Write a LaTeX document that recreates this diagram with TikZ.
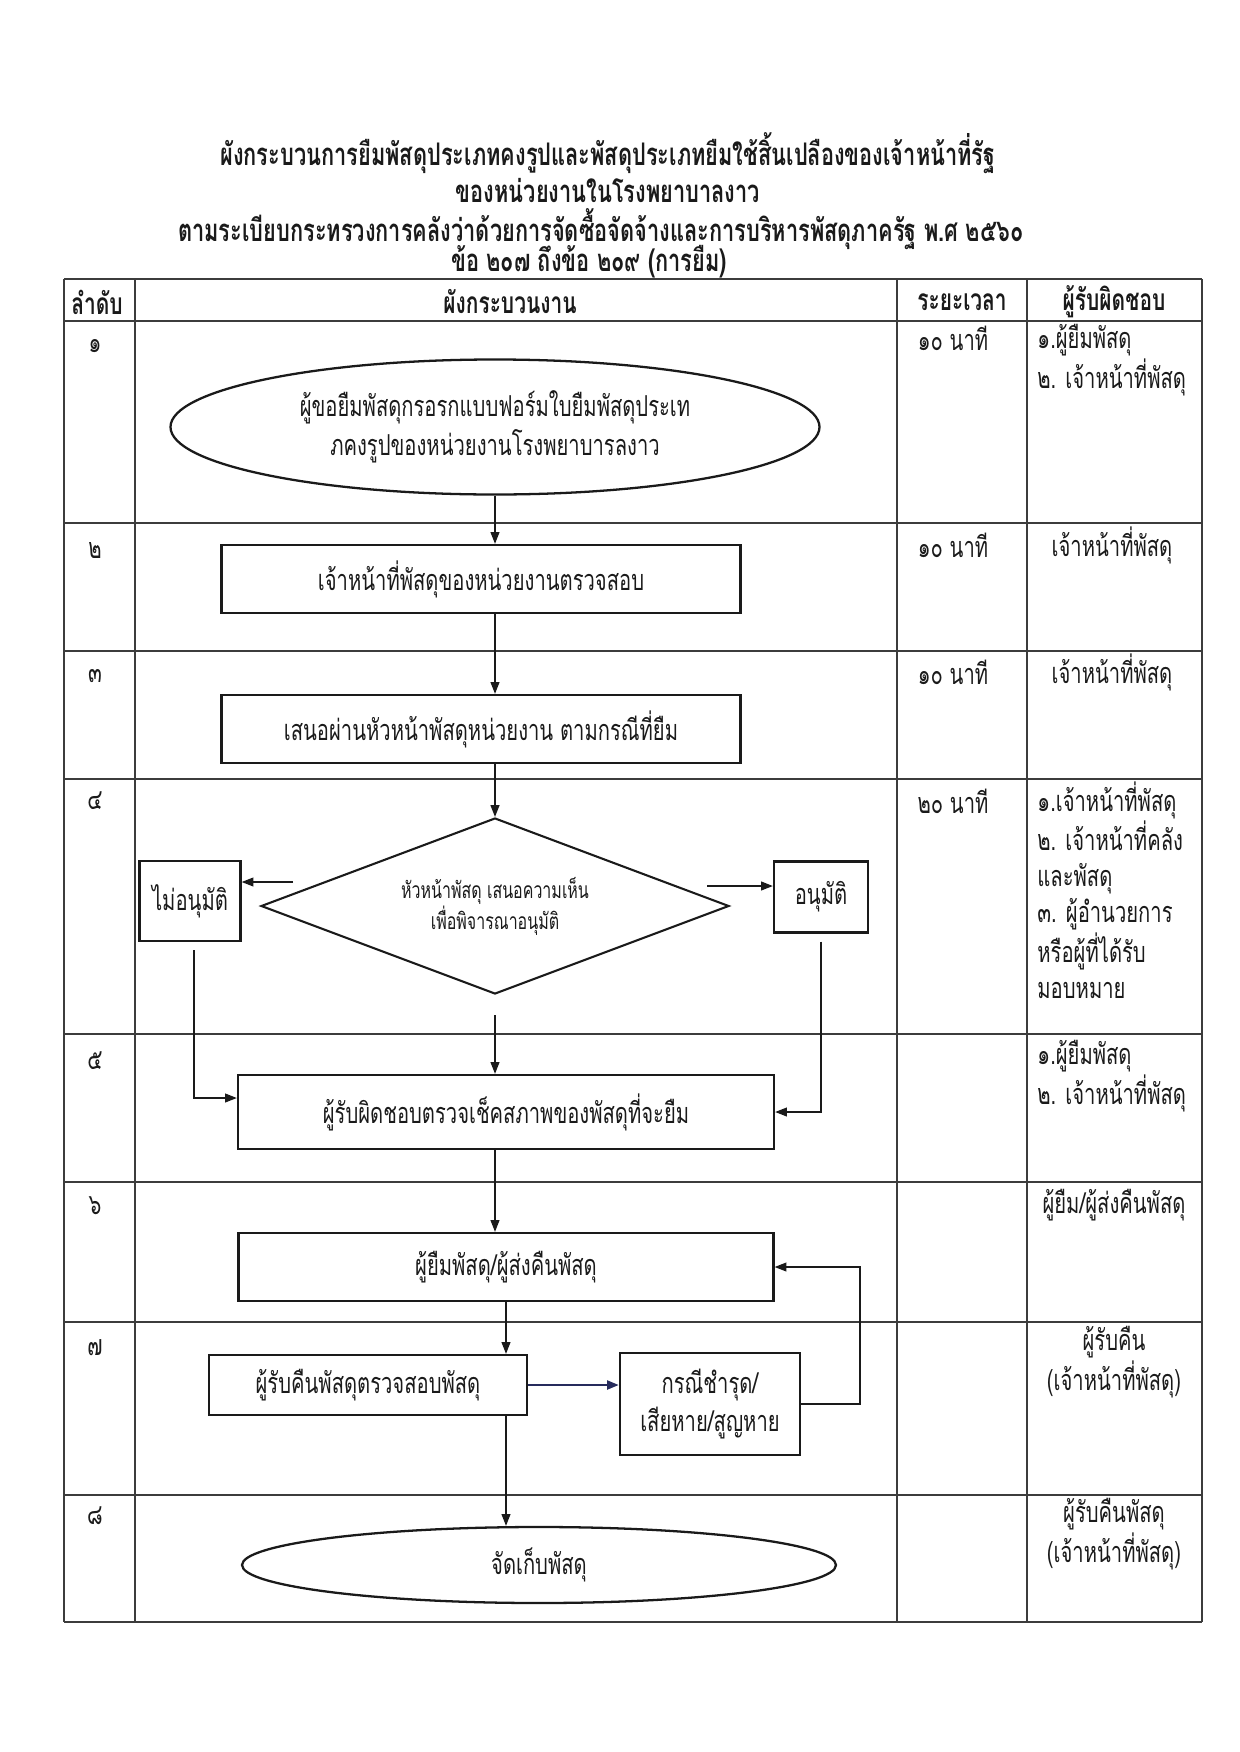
\documentclass[tikz,border=0pt]{standalone}
\usepackage{fontspec}
\newfontfamily\thaifont[Script=Thai,FakeStretch=0.7]{Loma}
\usetikzlibrary{arrows.meta,positioning,shapes.geometric}
\definecolor{Ink}{HTML}{1A1A1A}
\definecolor{Rule}{HTML}{3C3C3C}
\definecolor{Navy}{HTML}{262B5C}
\newcommand{\pxu}{0.16935mm}
\newcommand{\txt}{\thaifont\fontsize{13.9}{17}\selectfont}

\begin{document}
\begin{tikzpicture}[x=\pxu,y=-\pxu,
    every node/.style={font=\txt,text=Ink,inner sep=0pt},
    titlefont/.style={font=\thaifont\bfseries\fontsize{15}{15}\selectfont},
    headcell/.style={font=\thaifont\bfseries\fontsize{14.4}{15}\selectfont},
    procbox/.style={draw=Ink,line width=1.1pt,align=center},
    termnode/.style={ellipse,draw=Ink,line width=1.1pt,align=center},
    decide/.style={diamond,draw=Ink,line width=1pt,align=center,aspect=2.66,
      font=\thaifont\fontsize{11}{15}\selectfont},
    arr/.style={draw=Ink,line width=0.7pt,-{Triangle[length=2mm,width=1.5mm]}},
    grid/.style={draw=Rule,line width=1.1pt}]
  \useasboundingbox (0,0) rectangle (1240,1752);

  % title
  \node[titlefont] (title1) at (608,153)
    {ผังกระบวนการยืมพัสดุประเภทคงรูปและพัสดุประเภทยืมใช้สิ้นเปลืองของเจ้าหน้าที่รัฐ};
  \node[titlefont] (title2) at (608,191) {ของหน่วยงานในโรงพยาบาลงาว};
  \node[titlefont] (title3) at (601,229)
    {ตามระเบียบกระทรวงการคลังว่าด้วยการจัดซื้อจัดจ้างและการบริหารพัสดุภาครัฐ พ.ศ ๒๕๖๐};
  \node[titlefont] (title4) at (589,262) {ข้อ ๒๐๗ ถึงข้อ ๒๐๙ (การยืม)};

  % table
  \foreach \y in {279,321,523,651,779,1034,1182,1322,1495,1622}
    \draw[grid] (64,\y) -- (1202,\y);
  \foreach \x in {64,135,897,1027,1202}
    \draw[grid] (\x,279) -- (\x,1622);

  \node[headcell] (hOrder) at (97,302) {ลำดับ};
  \node[headcell] (hFlow) at (510,302) {ผังกระบวนงาน};
  \node[headcell] (hTime) at (962,302) {ระยะเวลา};
  \node[headcell] (hResp) at (1114,302) {ผู้รับผิดชอบ};

  \foreach \i/\n/\y in {1/๑/346,2/๒/551,3/๓/676,4/๔/801,5/๕/1061,6/๖/1206,7/๗/1348,8/๘/1516}
    \node (num\i) at (95,\y) {\n};

  \foreach \i/\t/\y in {1/๑๐ นาที/338,2/๑๐ นาที/545,3/๑๐ นาที/672,4/๒๐ นาที/801}
    \node (time\i) at (953,\y) {\t};

  % responsible
  \node[anchor=west,align=left,font=\thaifont\fontsize{13.9}{16.5}\selectfont] (resp1) at (1037,360)
    {๑.ผู้ยืมพัสดุ\\๒. เจ้าหน้าที่พัสดุ};
  \node (resp2) at (1112,545) {เจ้าหน้าที่พัสดุ};
  \node (resp3) at (1112,672) {เจ้าหน้าที่พัสดุ};
  \node[anchor=west,align=left,font=\thaifont\fontsize{13.9}{17.4}\selectfont] (resp4) at (1037,890)
    {๑.เจ้าหน้าที่พัสดุ\\๒. เจ้าหน้าที่คลัง\\และพัสดุ\\๓. ผู้อำนวยการ\\หรือผู้ที่ได้รับ\\มอบหมาย};
  \node[anchor=west,align=left,font=\thaifont\fontsize{13.9}{16.5}\selectfont] (resp5) at (1037,1076)
    {๑.ผู้ยืมพัสดุ\\๒. เจ้าหน้าที่พัสดุ};
  \node (resp6) at (1114,1205) {ผู้ยืม/ผู้ส่งคืนพัสดุ};
  \node[align=center] (resp7) at (1114,1362) {ผู้รับคืน\\(เจ้าหน้าที่พัสดุ)};
  \node[align=center,font=\thaifont\fontsize{13.9}{16}\selectfont] (resp8) at (1114,1534)
    {ผู้รับคืนพัสดุ\\(เจ้าหน้าที่พัสดุ)};

  % flow
  \node[termnode,minimum width=649*\pxu,minimum height=135*\pxu,
    font=\thaifont\fontsize{13.9}{19}\selectfont] (borrow) at (495,427)
    {ผู้ขอยืมพัสดุกรอรกแบบฟอร์มใบยืมพัสดุประเท\\ภคงรูปของหน่วยงานโรงพยาบารลงาว};
  \node[procbox,minimum width=519*\pxu,minimum height=68*\pxu] (check) at (481,579)
    {เจ้าหน้าที่พัสดุของหน่วยงานตรวจสอบ};
  \node[procbox,minimum width=519*\pxu,minimum height=68*\pxu] (propose) at (481,729)
    {เสนอผ่านหัวหน้าพัสดุหน่วยงาน ตามกรณีที่ยืม};
  \node[decide,minimum width=468*\pxu,minimum height=176*\pxu] (decide) at (495,906)
    {หัวหน้าพัสดุ เสนอความเห็น\\เพื่อพิจารณาอนุมัติ};
  \node[procbox,minimum width=101*\pxu,minimum height=80*\pxu] (reject) at (190,901) {ไม่อนุมัติ};
  \node[procbox,minimum width=94*\pxu,minimum height=71*\pxu] (approve) at (821,897) {อนุมัติ};
  \node[procbox,minimum width=536*\pxu,minimum height=74*\pxu] (inspect) at (506,1112)
    {ผู้รับผิดชอบตรวจเช็คสภาพของพัสดุที่จะยืม};
  \node[procbox,minimum width=535*\pxu,minimum height=68*\pxu] (giveback) at (506,1267)
    {ผู้ยืมพัสดุ/ผู้ส่งคืนพัสดุ};
  \node[procbox,minimum width=318*\pxu,minimum height=60*\pxu] (receive) at (368,1385)
    {ผู้รับคืนพัสดุตรวจสอบพัสดุ};
  \node[procbox,minimum width=180*\pxu,minimum height=102*\pxu,
    font=\thaifont\fontsize{13.9}{18}\selectfont] (damage) at (710,1404)
    {กรณีชำรุด/\\เสียหาย/สูญหาย};
  \node[termnode,minimum width=594*\pxu,minimum height=76*\pxu] (store) at (539,1565)
    {จัดเก็บพัสดุ};

  \coordinate (rejectFrom) at (293,882);
  \coordinate (approveFrom) at (707,886);

  \draw[arr] (borrow.south) -- (borrow.south |- check.north);
  \draw[arr] (borrow.south |- check.south) -- (borrow.south |- propose.north);
  \draw[arr] (borrow.south |- propose.south) -- (decide.north);
  \draw[arr] (rejectFrom) -- (rejectFrom -| reject.east);
  \draw[arr] (approveFrom) -- (approveFrom -| approve.west);
  \draw[arr] ([xshift=4*\pxu,yshift=-8*\pxu]reject.south) |- ([yshift=14*\pxu]inspect.west);
  \draw[arr] ([yshift=-8*\pxu]approve.south) |- (inspect.east);
  \draw[arr] ([yshift=-20*\pxu]decide.south) -- (decide.south |- inspect.north);
  \draw[arr] (decide.south |- inspect.south) -- (decide.south |- giveback.north);
  \draw[arr] (giveback.south) -- (giveback.south |- receive.north);
  \draw[arr,draw=Navy,line width=1.2pt] (receive.east) -- (receive.east -| damage.west);
  \draw[arr] (damage.east) -- ++(59,0) |- (giveback.east);
  \draw[arr] (giveback.south |- receive.south) -- (giveback.south |- store.north);
\end{tikzpicture}
\end{document}
